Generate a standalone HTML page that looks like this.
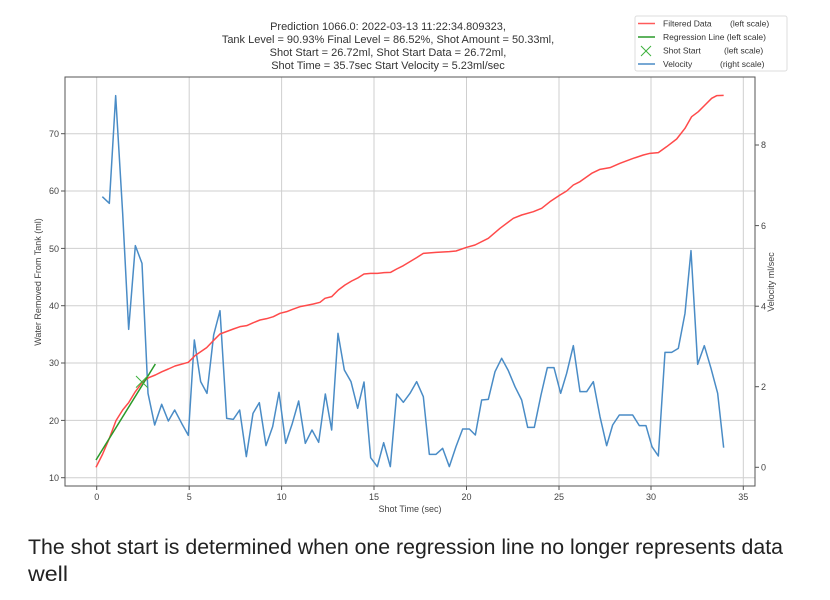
<!DOCTYPE html>
<html><head><meta charset="utf-8"><style>
html,body{margin:0;padding:0;background:#fff;}
svg{display:block;font-family:"Liberation Sans",sans-serif;}
</style></head><body>
<svg width="830" height="600" viewBox="0 0 830 600" xmlns="http://www.w3.org/2000/svg">
<rect width="830" height="600" fill="#fff"/>
<g font-size="11" fill="#333" text-anchor="middle">
<text x="388" y="30">Prediction 1066.0: 2022-03-13 11:22:34.809323,</text>
<text x="388" y="43">Tank Level = 90.93% Final Level = 86.52%, Shot Amount = 50.33ml,</text>
<text x="388" y="56">Shot Start = 26.72ml, Shot Start Data = 26.72ml,</text>
<text x="388" y="69">Shot Time = 35.7sec Start Velocity = 5.23ml/sec</text>
</g>
<g stroke="#cfcfcf" stroke-width="1">
<line x1="96.7" y1="77" x2="96.7" y2="486"/><line x1="189.2" y1="77" x2="189.2" y2="486"/>
<line x1="281.6" y1="77" x2="281.6" y2="486"/><line x1="374" y1="77" x2="374" y2="486"/>
<line x1="466.5" y1="77" x2="466.5" y2="486"/><line x1="559" y1="77" x2="559" y2="486"/>
<line x1="651" y1="77" x2="651" y2="486"/><line x1="743.3" y1="77" x2="743.3" y2="486"/>
<line x1="65" y1="133.7" x2="755" y2="133.7"/><line x1="65" y1="191" x2="755" y2="191"/>
<line x1="65" y1="248.4" x2="755" y2="248.4"/><line x1="65" y1="305.7" x2="755" y2="305.7"/>
<line x1="65" y1="363" x2="755" y2="363"/><line x1="65" y1="420.4" x2="755" y2="420.4"/>
<line x1="65" y1="477.7" x2="755" y2="477.7"/>
</g>
<rect x="65" y="77" width="690" height="409" fill="none" stroke="#555" stroke-width="1"/>
<g stroke="#555" stroke-width="1">
<line x1="96.7" y1="486" x2="96.7" y2="490"/><line x1="189.2" y1="486" x2="189.2" y2="490"/>
<line x1="281.6" y1="486" x2="281.6" y2="490"/><line x1="374" y1="486" x2="374" y2="490"/>
<line x1="466.5" y1="486" x2="466.5" y2="490"/><line x1="559" y1="486" x2="559" y2="490"/>
<line x1="651" y1="486" x2="651" y2="490"/><line x1="743.3" y1="486" x2="743.3" y2="490"/>
<line x1="61" y1="133.7" x2="65" y2="133.7"/><line x1="61" y1="191" x2="65" y2="191"/>
<line x1="61" y1="248.4" x2="65" y2="248.4"/><line x1="61" y1="305.7" x2="65" y2="305.7"/>
<line x1="61" y1="363" x2="65" y2="363"/><line x1="61" y1="420.4" x2="65" y2="420.4"/>
<line x1="61" y1="477.7" x2="65" y2="477.7"/>
<line x1="755" y1="467.3" x2="759" y2="467.3"/><line x1="755" y1="386.7" x2="759" y2="386.7"/>
<line x1="755" y1="306.2" x2="759" y2="306.2"/><line x1="755" y1="225.6" x2="759" y2="225.6"/>
<line x1="755" y1="145" x2="759" y2="145"/>
</g>
<g font-size="9" fill="#444">
<g text-anchor="middle">
<text x="96.7" y="500">0</text><text x="189.2" y="500">5</text><text x="281.6" y="500">10</text>
<text x="374" y="500">15</text><text x="466.5" y="500">20</text><text x="559" y="500">25</text>
<text x="651" y="500">30</text><text x="743.3" y="500">35</text>
</g>
<g text-anchor="end">
<text x="59" y="137">70</text><text x="59" y="194">60</text><text x="59" y="252">50</text>
<text x="59" y="309">40</text><text x="59" y="366">30</text><text x="59" y="424">20</text>
<text x="59" y="481">10</text>
</g>
<text x="761" y="470.5">0</text><text x="761" y="390">2</text><text x="761" y="309.5">4</text>
<text x="761" y="229">6</text><text x="761" y="148">8</text>
<text x="410" y="512" text-anchor="middle">Shot Time (sec)</text>
<text transform="translate(41,282) rotate(-90)" text-anchor="middle">Water Removed From Tank (ml)</text>
<text transform="translate(774,282) rotate(-90)" text-anchor="middle">Velocity ml/sec</text>
</g>
<g transform="translate(0,80) scale(0.33333)" fill="none" stroke-linejoin="round" stroke-width="4.5">
<polyline stroke="#4a8cc6" points="307,350 328,370 347,47 368,400 386,748 406,497 426,550 444,940 464,1035 485,973 505,1023 524,990 545,1030 565,1066 583,780 602,905 621,940 641,765 660,692 680,1015 700,1018 719,990 739,1130 759,1000 778,968 798,1097 818,1040 837,937 857,1090 877,1030 896,963 916,1090 936,1050 956,1087 976,942 995,1050 1014,760 1033,870 1053,905 1073,985 1092,906 1112,1133 1132,1160 1151,1088 1171,1160 1190,942 1210,967 1230,940 1250,905 1270,950 1288,1123 1308,1123 1328,1105 1348,1160 1368,1100 1388,1047 1408,1047 1426,1065 1445,960 1465,958 1485,875 1505,835 1525,872 1545,920 1565,960 1583,1042 1603,1042 1623,945 1642,863 1662,863 1682,940 1700,880 1720,797 1740,935 1760,935 1780,905 1800,1010 1820,1097 1838,1035 1858,1005 1878,1005 1898,1005 1918,1037 1938,1037 1956,1100 1975,1128 1995,817 2015,817 2035,805 2055,700 2073,512 2093,853 2113,797 2133,865 2153,940 2171,1103"/>
<polyline stroke="#ff4a4a" points="288,1162 308,1122 328,1075 348,1022 368,990 386,968 406,935 426,908 446,893 466,885 486,875 505,867 525,858 565,847 585,827 620,803 640,782 660,762 700,747 720,740 740,737 760,728 780,720 800,716 820,710 840,700 860,695 878,688 900,680 920,676 940,672 960,667 975,655 995,650 1015,630 1035,615 1055,603 1075,593 1092,582 1112,580 1132,580 1152,578 1172,577 1190,567 1210,557 1230,545 1250,533 1270,520 1308,517 1348,515 1368,513 1400,502 1425,495 1465,475 1500,445 1540,415 1565,405 1600,395 1625,385 1650,365 1680,345 1700,333 1720,315 1740,305 1775,280 1800,268 1830,263 1860,250 1900,235 1930,225 1950,220 1975,218 2000,200 2030,177 2055,145 2075,110 2095,95 2115,75 2135,55 2150,47 2171,46"/>
<line x1="288" y1="1140" x2="466" y2="852" stroke="#2a9a2a"/>
<line x1="408" y1="888" x2="443" y2="923" stroke="#3cb03c" stroke-width="3"/>
<line x1="408" y1="923" x2="443" y2="888" stroke="#3cb03c" stroke-width="3"/>
</g>
<rect x="635" y="16" width="152" height="55" rx="2" fill="#fff" stroke="#ddd"/>
<g stroke-width="1.5">
<line x1="638" y1="23.5" x2="655" y2="23.5" stroke="#ff5a5a"/>
<line x1="638" y1="37" x2="655" y2="37" stroke="#2a9a2a"/>
<line x1="641" y1="46" x2="651" y2="56" stroke="#3cb03c" stroke-width="1"/>
<line x1="641" y1="56" x2="651" y2="46" stroke="#3cb03c" stroke-width="1"/>
<line x1="638" y1="64" x2="655" y2="64" stroke="#4a8cc6"/>
</g>
<g font-size="8.5" fill="#333">
<text x="663" y="26.5">Filtered Data</text><text x="730" y="26.5">(left scale)</text>
<text x="663" y="40">Regression Line (left scale)</text>
<text x="663" y="53.5">Shot Start</text><text x="724" y="53.5">(left scale)</text>
<text x="663" y="67">Velocity</text><text x="720" y="67">(right scale)</text>
</g>
<g font-size="21" fill="#222">
<text x="28" y="554" textLength="755" lengthAdjust="spacingAndGlyphs">The shot start is determined when one regression line no longer represents data</text>
<text x="28" y="581" textLength="40" lengthAdjust="spacingAndGlyphs">well</text>
</g>
</svg>
</body></html>
